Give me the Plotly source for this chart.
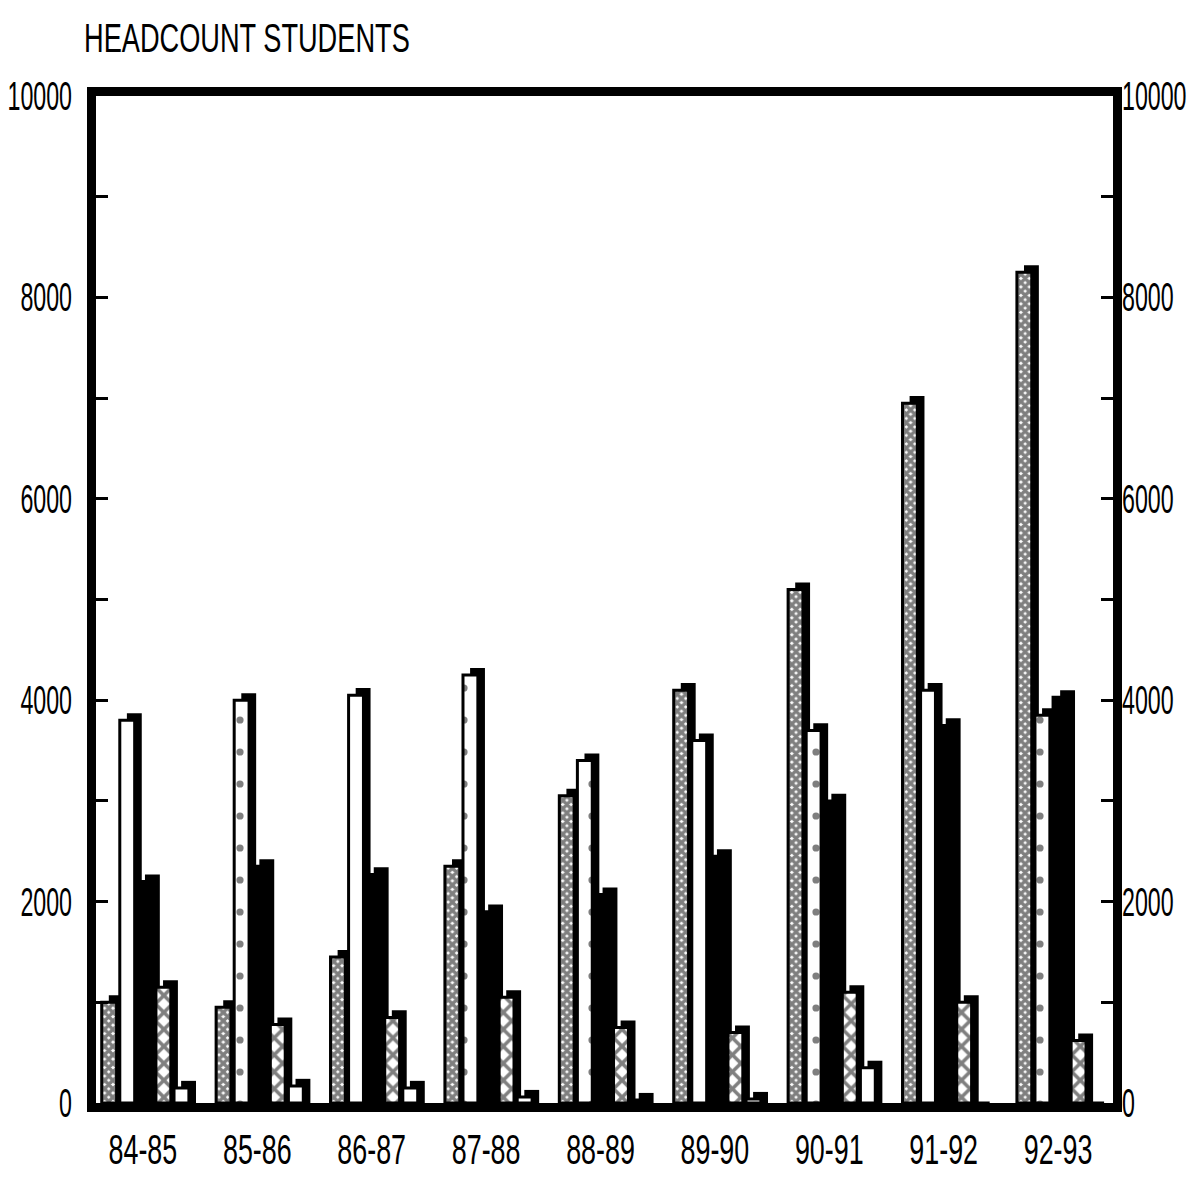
import plotly.graph_objects as go

years = ["84-85", "85-86", "86-87", "87-88", "88-89", "89-90", "90-91", "91-92", "92-93"]
series_a = [1000, 950, 1450, 2350, 3050, 4100, 5100, 6950, 8250]   # fine cross-hatch
series_b = [3800, 4000, 4050, 4250, 3400, 3600, 3700, 4100, 3850]  # dotted
series_c = [2200, 2350, 2270, 1900, 2070, 2450, 3000, 3750, 4030]  # solid black
series_d = [1150, 780, 850, 1050, 750, 700, 1100, 1000, 620]       # large X hatch
series_e = [150, 170, 150, 60, 30, 40, 350, 0, 0]                  # small hollow
y_ticks = list(range(0, 10001, 1000))
y_labels = [str(v) if v % 2000 == 0 else "" for v in y_ticks]

FONT = "Liberation Sans, Arial, sans-serif"
xpos = list(range(len(years)))

styles = [
    (series_a, dict(shape="x", size=6, solidity=0.82, fgcolor="black", bgcolor="white"), "white"),
    (series_b, dict(shape=".", size=32, solidity=0.04, fgcolor="black", bgcolor="white"), "white"),
    (series_c, None, "black"),
    (series_d, dict(shape="x", size=12, solidity=0.5, fgcolor="black", bgcolor="white"), "white"),
    (series_e, None, "white"),
]

FIRST = -0.36
STEP = 0.158
W = 0.13
SHIFT = 0.062
DEPTH = 70

fig = go.Figure()
for i, (vals, pat, col) in enumerate(styles):
    off = FIRST + i * STEP
    shadow = [v + DEPTH if v > 0 else 0 for v in vals]
    fig.add_trace(go.Bar(x=xpos, y=shadow, offset=off + SHIFT, width=W,
                         marker=dict(color="black", line=dict(width=0)),
                         showlegend=False, hoverinfo="skip"))
    mk = dict(color=col, line=dict(color="black", width=3))
    if pat:
        mk["pattern"] = pat
    fig.add_trace(go.Bar(x=xpos, y=vals, offset=off, width=W, marker=mk,
                         showlegend=False))

fig.add_trace(go.Scatter(x=[0], y=[0], yaxis="y2", mode="markers",
                         marker=dict(opacity=0), showlegend=False, hoverinfo="skip"))

fig.update_layout(
    width=1196, height=1177,
    margin=dict(l=88, r=91, t=88, b=82),
    paper_bgcolor="white", plot_bgcolor="white",
    barmode="overlay",
    font=dict(family=FONT, color="black", size=40),
    title=dict(text="HEADCOUNT STUDENTS", x=76 / 1196, xanchor="left",
               y=1 - 30 / 1177, yanchor="middle",
               font=dict(family=FONT, size=40, color="black")),
    xaxis=dict(range=[-0.41, 8.48], tickvals=xpos, ticktext=years,
               showline=True, linewidth=9, linecolor="black", mirror=True,
               ticks="", showgrid=False, zeroline=False, automargin=False,
               ticklabelstandoff=2, tickfont=dict(size=42)),
    yaxis=dict(range=[0, 10000], tickvals=y_ticks, ticktext=y_labels,
               showline=True, linewidth=9, linecolor="black", mirror="ticks",
               ticks="inside", ticklen=12, tickwidth=3, tickcolor="black",
               showgrid=False, zeroline=False, automargin=False,
               ticklabelstandoff=7, tickfont=dict(size=40)),
    yaxis2=dict(range=[0, 10000], overlaying="y", side="right",
                tickvals=y_ticks, ticktext=y_labels, showline=False,
                ticks="", showgrid=False, zeroline=False, automargin=False,
                ticklabelstandoff=8, tickfont=dict(size=40)),
)

# condense the lettering horizontally (the original uses a tall, narrow typeface)
squeeze_js = """
(function(){
  var gd = document.getElementById('{plot_id}');
  function squeeze(sel, k){
    gd.querySelectorAll(sel).forEach(function(t){
      if (t.getAttribute('data-sq')) return;
      var x = parseFloat(t.getAttribute('x')) || 0;
      var tr = t.getAttribute('transform') || '';
      t.setAttribute('transform', tr + ' translate(' + x + ',0) scale(' + k + ',1) translate(' + (-x) + ',0)');
      t.setAttribute('data-sq', '1');
    });
  }
  squeeze('.ytick text', 0.58);
  squeeze('.y2tick text', 0.58);
  squeeze('.xtick text', 0.64);
  squeeze('.gtitle', 0.68);
})();
"""

fig.write_html("out.html", post_script=squeeze_js)
